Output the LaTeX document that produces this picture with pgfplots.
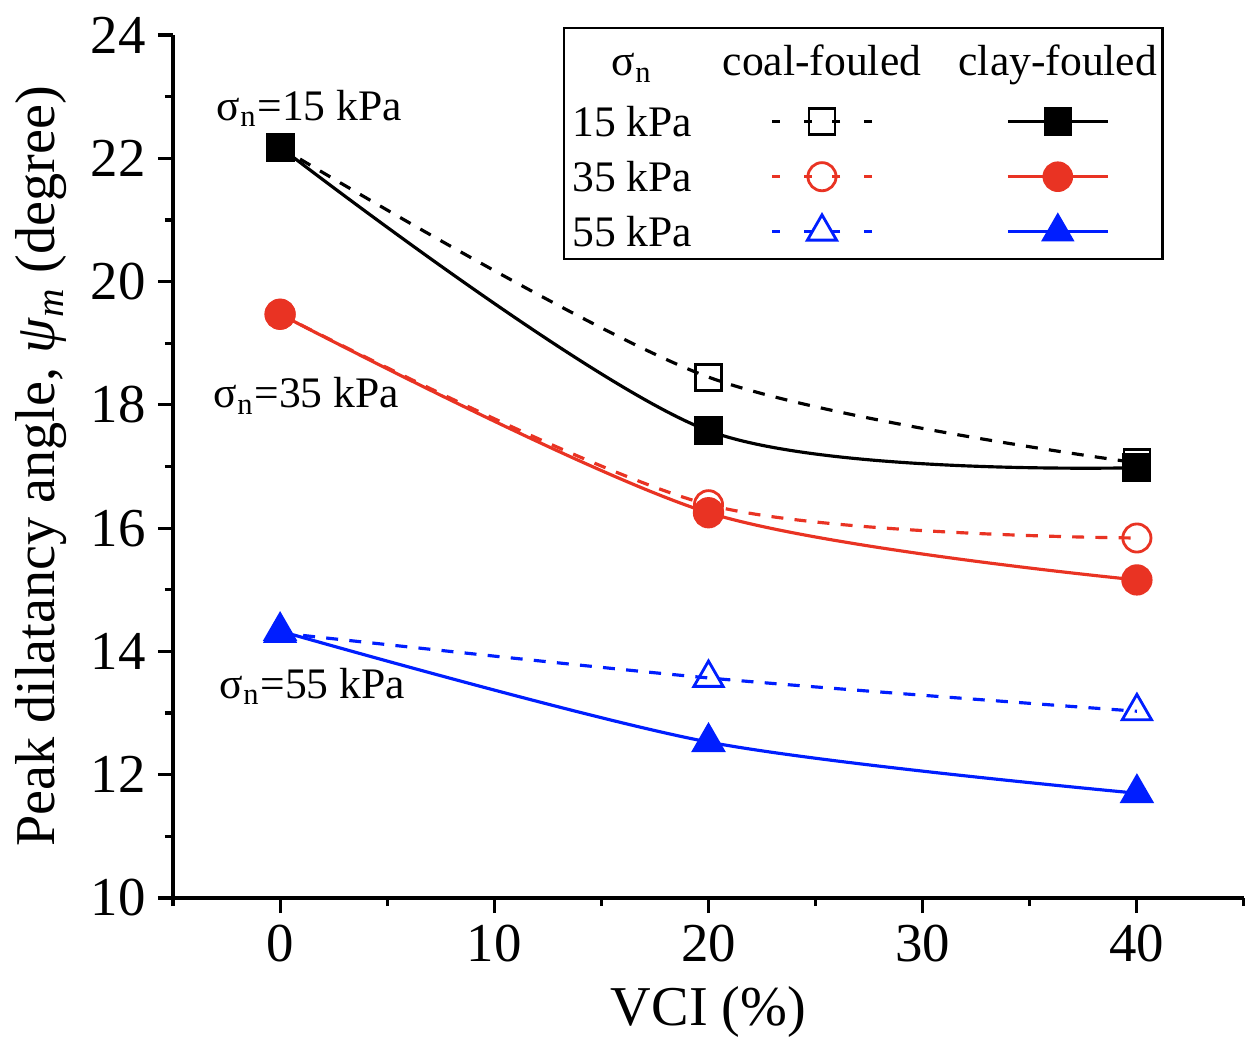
\documentclass[border=0pt]{standalone}
\usepackage{pgfplots}
\pgfplotsset{compat=1.18}
\usepackage{fontspec}
\setmainfont{Liberation Serif}
\definecolor{myred}{RGB}{233,51,35}
\definecolor{myblue}{RGB}{0,30,255}
\newcommand{\legfont}{\fontsize{12.4}{14}\selectfont}
% text cell of the legend: left extent, right extent, half height, text
\newcommand{\legtext}[4]{%
  \addlegendimage{legend image code/.code={%
    \path[draw=none, fill=none] (-#1,-#3) rectangle (#2,#3);
    \node[draw=none, fill=none, inner sep=0pt, anchor=base, font=\legfont, text=black] at (0,-0.145cm) {#4};}}%
  \addlegendentry{}}
% marker cell: left extent, right extent, line style, mark style
\newcommand{\legmark}[4]{%
  \addlegendimage{legend image code/.code={%
    \path[draw=none, fill=none] (-#1,-0.275cm) rectangle (#2,0.275cm);
    \draw[#3] (-0.5cm,0) -- (0,0) (0.5cm,0) -- (0,0);
    \draw plot[only marks, #4] coordinates {(0,0)};}}%
  \addlegendentry{}}
\begin{document}
\begin{tikzpicture}
\useasboundingbox (-1.73cm,-1.44cm) rectangle (10.72cm,8.98cm);
\begin{axis}[
  at={(0,0)}, anchor=south west, scale only axis,
  width=10.71cm, height=8.63cm,
  xmin=-5, xmax=45, ymin=10, ymax=24,
  axis x line*=bottom, axis y line*=left,
  axis line style={line width=0.9pt},
  xtick={0,10,20,30,40}, minor xtick={-5,5,15,25,35,45},
  ytick={10,12,...,24}, minor ytick={11,13,...,23},
  tick align=outside,
  major tick length=0.15cm, minor tick length=0.08cm,
  tick style={black, line width=0.9pt},
  /pgf/number format/assume math mode=true,
  ticklabel style={font=\fontsize{15.6}{18}\selectfont},
  xlabel={VCI (\%)},
  ylabel={Peak dilatancy angle, \textit{ψ}\textsubscript{\textit{m}} (degree)},
  label style={font=\fontsize{16}{19}\selectfont},
  legend columns=3,
  legend style={at={(0.3641,1.0093)}, anchor=north west,
    draw=black, line width=0.7pt, fill=white,
    inner sep=0pt, column sep=0pt, row sep=0pt,
    nodes={inner sep=0pt, text depth=0pt, draw=none}},
]
% coal-fouled (dashed, open markers)
\addplot[black, line width=0.9pt, dash pattern=on 3.4pt off 3.2pt, smooth, mark=square, mark size=3.7pt,
  mark options={solid, fill=white, line width=0.8pt}, forget plot]
  coordinates {(0,22.18) (20,18.45) (40,17.06)};
\addplot[myred, line width=0.9pt, dash pattern=on 3.4pt off 3.2pt, smooth, mark=o, mark size=4pt,
  mark options={solid, fill=white, line width=0.8pt}, forget plot]
  coordinates {(0,19.47) (20,16.38) (40,15.84)};
\addplot[myblue, line width=0.9pt, dash pattern=on 3.4pt off 3.2pt, smooth, mark=triangle, mark size=4.8pt,
  mark options={solid, fill=white, line width=0.8pt}, forget plot]
  coordinates {(0,14.30) (20,13.57) (40,13.03)};
% clay-fouled (solid, filled markers)
\addplot[black, line width=0.9pt, smooth, mark=square*, mark size=3.7pt,
  mark options={solid, fill=black}, forget plot]
  coordinates {(0,22.18) (20,17.58) (40,16.98)};
\addplot[myred, line width=0.9pt, smooth, mark=*, mark size=4pt,
  mark options={solid, fill=myred}, forget plot]
  coordinates {(0,19.47) (20,16.25) (40,15.16)};
\addplot[myblue, line width=0.9pt, smooth, mark=triangle*, mark size=4.8pt,
  mark options={solid, fill=myblue}, forget plot]
  coordinates {(0,14.33) (20,12.53) (40,11.70)};
% annotations
\node[anchor=base west, inner sep=0pt, font=\fontsize{12.4}{14}\selectfont] at (axis cs:-2.98,22.62) {σ\textsubscript{n}=15 kPa};
\node[anchor=base west, inner sep=0pt, font=\fontsize{12.4}{14}\selectfont] at (axis cs:-3.12,17.95) {σ\textsubscript{n}=35 kPa};
\node[anchor=base west, inner sep=0pt, font=\fontsize{12.4}{14}\selectfont] at (axis cs:-2.84,13.24) {σ\textsubscript{n}=55 kPa};
% legend: header row
\legtext{0.68cm}{0.68cm}{0.33cm}{σ\textsubscript{n}}
\legtext{1.183cm}{1.313cm}{0.33cm}{coal-fouled}
\legtext{1.01cm}{1.013cm}{0.33cm}{clay-fouled}
% row 15 kPa
\legtext{0.68cm}{0.68cm}{0.275cm}{15 kPa}
\legmark{1.183cm}{1.313cm}{black, line width=0.9pt, dash pattern=on 0.08cm off 0.24cm}{mark=square, mark size=3.7pt, mark options={black, solid, fill=white, line width=0.8pt}}
\legmark{1.01cm}{1.013cm}{black, line width=0.9pt}{mark=square*, mark size=3.7pt, mark options={black, fill=black}}
% row 35 kPa
\legtext{0.68cm}{0.68cm}{0.275cm}{35 kPa}
\legmark{1.183cm}{1.313cm}{myred, line width=0.9pt, dash pattern=on 0.08cm off 0.24cm}{mark=o, mark size=4pt, mark options={myred, solid, fill=white, line width=0.8pt}}
\legmark{1.01cm}{1.013cm}{myred, line width=0.9pt}{mark=*, mark size=4pt, mark options={myred, fill=myred}}
% row 55 kPa
\legtext{0.68cm}{0.68cm}{0.275cm}{55 kPa}
\legmark{1.183cm}{1.313cm}{myblue, line width=0.9pt, dash pattern=on 0.08cm off 0.24cm}{mark=triangle, mark size=4.8pt, mark options={myblue, solid, fill=white, line width=0.8pt}}
\legmark{1.01cm}{1.013cm}{myblue, line width=0.9pt}{mark=triangle*, mark size=4.8pt, mark options={myblue, fill=myblue}}
\end{axis}
\end{tikzpicture}
\end{document}
